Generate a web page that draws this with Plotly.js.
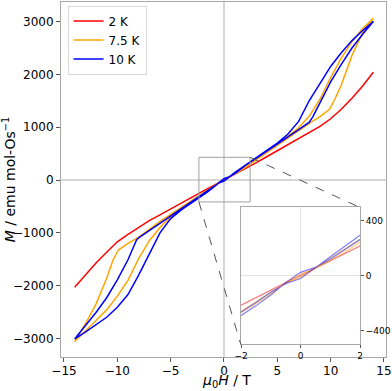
<!DOCTYPE html>
<html>
<head>
<meta charset="utf-8">
<script src="https://cdn.plot.ly/plotly-3.0.1.min.js"></script>
<style>
  body { margin: 0; background: #fff; }
  #chart { width: 392px; height: 391px; }
</style>
</head>
<body>
<div id="chart"></div>
<script>
// 2 K (no visible hysteresis)
var fieldRed = [-14, -13, -12, -11, -10, -9, -8, -7, -6, -5, -4, -3, -2, -1.5, -1, -0.5, 0,
  0.5, 1, 1.5, 2, 3, 4, 5, 6, 7, 8, 9, 10, 11, 12, 13, 14];
var momRed = [-2030, -1790, -1570, -1370, -1170, -1030, -895, -770, -660, -545, -435, -322, -210, -158, -105, -52, 2,
  55, 107, 160, 212, 325, 440, 555, 670, 775, 890, 1015, 1160, 1340, 1550, 1780, 2040];

// 7.5 K, sweep down then up
var fieldOrangeDown = [14, 13, 12, 11, 10, 9, 8, 7, 6, 5, 4, 3, 2, 1.5, 1, 0.5, 0, -0.5, -1, -1.5, -2,
  -3, -4, -5, -6, -7, -8, -9, -9.9, -10.4, -11, -12, -13, -14];
var momOrangeDown = [3060, 2870, 2620, 2310, 1940, 1530, 1210, 990, 830, 680, 535, 395, 264, 198, 130, 55, -12, -55, -120, -185, -250,
  -385, -515, -645, -785, -935, -1080, -1200, -1326, -1515, -1860, -2350, -2725, -3060];
var fieldOrangeUp = [-14, -13, -12, -11, -10, -9, -8, -7, -6, -5, -4, -3, -2, -1.5, -1, -0.5, 0, 0.5, 1, 1.5, 2,
  3, 4, 5, 6, 7, 8, 9, 9.9, 10.4, 11, 12, 13, 14];
var momOrangeUp = [-3060, -2850, -2660, -2460, -2200, -1900, -1490, -1150, -900, -690, -540, -400, -270, -205, -135, -50, 12, 55, 110, 175, 240,
  380, 515, 650, 790, 940, 1073, 1200, 1339, 1534, 1800, 2360, 2790, 3062];

// 10 K, sweep down then up
var fieldBlueDown = [14, 13, 12, 11, 10, 9, 8, 7, 6, 5, 4, 3, 2, 1.5, 1, 0.5, 0, -0.5, -1, -1.5, -2,
  -3, -4, -5, -6, -7, -8, -8.2, -9, -10, -11, -12, -13, -14];
var momBlueDown = [3000, 2830, 2640, 2410, 2150, 1840, 1505, 1110, 870, 700, 560, 425, 295, 218, 140, 58, -20, -58, -120, -195, -269,
  -405, -540, -675, -820, -960, -1095, -1136, -1510, -1890, -2230, -2510, -2770, -3010];
var fieldBlueUp = [-14, -13, -12, -11, -10, -9, -8, -7, -6, -5, -4, -3, -2, -1.5, -1, -0.5, 0, 0.5, 1, 1.5, 2,
  3, 4, 5, 6, 7, 8, 8.34, 9, 10, 11, 12, 13, 14];
var momBlueUp = [-3010, -2880, -2740, -2600, -2410, -2170, -1800, -1400, -1000, -730, -565, -430, -294, -220, -140, -50, 25, 62, 120, 198, 276,
  410, 540, 670, 815, 955, 1095, 1199, 1460, 1860, 2190, 2500, 2760, 3000];

var names = ['2 K', '7.5 K', '10 K'];
var colors = ['#ff0000', '#ffa500', '#0000ff'];

var loops = [
  {x: fieldRed, y: momRed},
  {x: fieldOrangeDown.concat(fieldOrangeUp), y: momOrangeDown.concat(momOrangeUp)},
  {x: fieldBlueDown.concat(fieldBlueUp), y: momBlueDown.concat(momBlueUp)}
];

var data = [];
loops.forEach(function (l, i) {
  data.push({x: l.x, y: l.y, type: 'scatter', mode: 'lines', name: names[i],
    line: {color: colors[i], width: 1.5}, xaxis: 'x', yaxis: 'y'});
});
loops.forEach(function (l, i) {
  data.push({x: l.x, y: l.y, type: 'scatter', mode: 'lines', showlegend: false,
    opacity: 0.5, line: {color: colors[i], width: 1.2}, xaxis: 'x2', yaxis: 'y2'});
});

var frame = '#a8a8a8';
var layout = {
  width: 392, height: 391,
  margin: {l: 61, r: 6, t: 2, b: 34},
  paper_bgcolor: '#fff', plot_bgcolor: '#fff',
  font: {family: 'DejaVu Sans', size: 12, color: '#000'},
  showlegend: true,
  legend: {x: 0.02, y: 0.99, xanchor: 'left', yanchor: 'top', bgcolor: '#fff',
    bordercolor: '#d8d8d8', borderwidth: 1, font: {size: 12}},
  xaxis: {range: [-15.28, 15.19], tickvals: [-15, -10, -5, 0, 5, 10, 15], automargin: false,
    showgrid: false, zeroline: true, zerolinecolor: '#d6d6d6', zerolinewidth: 1.5,
    showline: true, mirror: true, linecolor: frame, ticks: 'outside', ticklen: 4, tickcolor: '#555',
    ticklabelstandoff: -1},
  yaxis: {range: [-3352, 3371], tickvals: [-3000, -2000, -1000, 0, 1000, 2000, 3000], automargin: false,
    showgrid: false, zeroline: true, zerolinecolor: '#d6d6d6', zerolinewidth: 1.5,
    showline: true, mirror: true, linecolor: frame, ticks: 'outside', ticklen: 4, tickcolor: '#555',
    title: {text: '<i>M</i> / emu mol-Os<sup>−1</sup>', font: {size: 14}, standoff: 4}},
  xaxis2: {domain: [0.554, 0.92], anchor: 'y2', range: [-2, 2], tickvals: [-2, 0, 2],
    showgrid: false, zeroline: true, zerolinecolor: '#e4e4e4', zerolinewidth: 1,
    showline: true, mirror: true, linecolor: frame, ticks: 'outside', ticklen: 3, tickcolor: '#555',
    tickfont: {size: 9}},
  yaxis2: {domain: [0.036, 0.4217], anchor: 'x2', side: 'right', range: [-500, 500], tickvals: [-400, 0, 400],
    showgrid: false, zeroline: true, zerolinecolor: '#e4e4e4', zerolinewidth: 1,
    showline: true, mirror: true, linecolor: frame, ticks: 'outside', ticklen: 3, tickcolor: '#555',
    tickfont: {size: 9}},
  annotations: [
    {text: '<i>μ</i><sub>0</sub><i>H</i> / T', xref: 'paper', yref: 'paper', x: 0.51, y: 0,
      yshift: -34, xanchor: 'center', yanchor: 'bottom', showarrow: false, borderpad: 0, font: {size: 14}}
  ],
  shapes: [
    {type: 'rect', xref: 'x', yref: 'y', x0: -2.35, x1: 2.45, y0: -415, y1: 430,
      line: {color: '#a0a0a0', width: 1}, layer: 'above'},
    {type: 'line', xref: 'x', yref: 'y', x0: 2.45, y0: 430, x1: 12.72, y1: -517,
      line: {color: '#555', width: 1, dash: 'dash'}, layer: 'above'},
    {type: 'line', xref: 'x', yref: 'y', x0: -2.35, y0: -415, x1: 1.57, y1: -3112,
      line: {color: '#555', width: 1, dash: 'dash'}, layer: 'above'}
  ]
};

Plotly.newPlot('chart', data, layout, {displayModeBar: false, staticPlot: true});
</script>
</body>
</html>
